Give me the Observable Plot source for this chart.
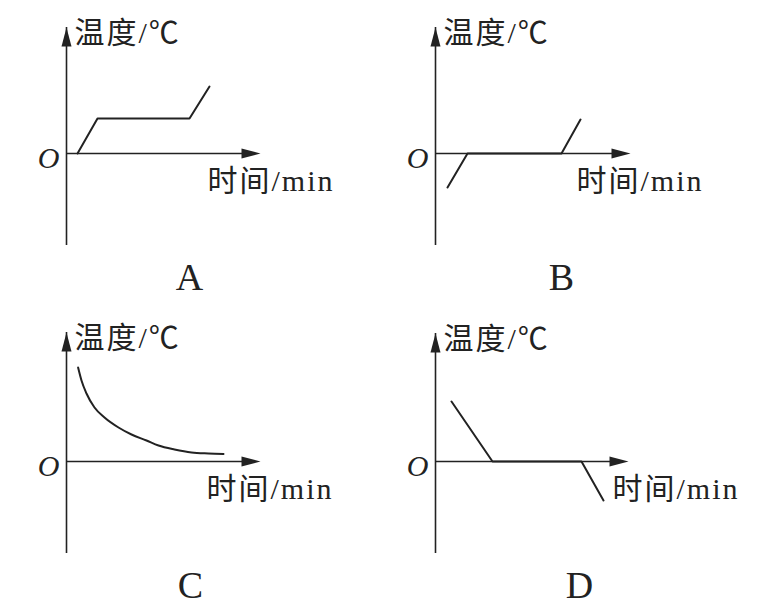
<!DOCTYPE html>
<html><head><meta charset="utf-8">
<script src="https://cdn.jsdelivr.net/npm/d3@7"></script>
<script src="https://cdn.jsdelivr.net/npm/@observablehq/plot@0.6"></script>
<style>
html,body{margin:0;padding:0;background:#fff;}
#chart{position:relative;width:768px;height:605px;background:#fff;overflow:hidden;}
.panel{position:absolute;}
</style></head><body><div id="chart"></div>
<script>
// ---- data (time in min, temperature in °C) ----
const panelNames = ["A", "B", "C", "D"];
const timeA = [0.55, 1.55, 6.15, 7.15];
const tempA = [0, 3.5, 3.5, 6.7];
const timeB = [0.6, 1.6, 6.3, 7.25];
const tempB = [-3.4, 0, 0, 3.4];
const timeC = [0.58, 0.75, 1.0, 1.4, 1.9, 2.6, 3.25, 4.0, 4.6, 5.4, 6.25, 7.1, 7.85];
const tempC = [9.4, 8.1, 6.8, 5.4, 4.4, 3.4, 2.7, 2.1, 1.6, 1.2, 0.9, 0.8, 0.75];
const timeD = [0.8, 2.85, 7.3, 8.4];
const tempD = [6.0, 0, 0, -3.9];
const curveNames = ["linear", "linear", "monotone-x", "linear"];

// axis extents and label anchors (data units)
const xAxisEnd = [9.7, 9.75, 9.7, 9.65];
const yAxisTop = [12.6, 12.6, 12.9, 12.8];
const yAxisBottom = [-8.6, -8.6, -8.6, -8.6];
const xLabelAt = [7.05, 7.05, 7.0, 8.85];
const letterAt = [6.15, 6.3, 6.2, 7.2];

const yAxisLabel = "温度/℃";
const xAxisLabel = "时间/min";
const originLabel = "O";

const times = [timeA, timeB, timeC, timeD];
const temps = [tempA, tempB, tempC, tempD];
const offsets = [[0, 0], [369, 0], [0, 308], [369, 308]];

const ink = "#222";
const fontStack = "'Liberation Serif', 'Times New Roman', 'Noto Sans CJK SC', serif";
const arrowHead = {
  draw(context, l, r) {
    context.moveTo(0, -l);
    context.lineTo(r, 0);
    context.lineTo(-r, 0);
    context.closePath();
  }
};

const chart = document.getElementById("chart");
panelNames.forEach((name, i) => {
  const rows = times[i].map((t, j) => ({time: t, temp: temps[i][j]}));
  const svg = Plot.plot({
    width: 384,
    height: 297,
    margin: 0,
    style: {background: "transparent", overflow: "visible", letterSpacing: "2px"},
    x: {domain: [-3.3, 15.9], axis: null},
    y: {domain: [-14.4, 15.3], axis: null},
    marks: [
      Plot.ruleY([0], {x1: 0, x2: xAxisEnd[i], stroke: ink, strokeWidth: 1.6, insetRight: 6}),
      Plot.ruleX([0], {y1: yAxisBottom[i], y2: yAxisTop[i], stroke: ink, strokeWidth: 1.6, insetTop: 6}),
      Plot.vector([{x: xAxisEnd[i], y: 0}], {x: "x", y: "y", rotate: 90, length: 19, r: 5, anchor: "end", shape: arrowHead, fill: ink, stroke: "none"}),
      Plot.vector([{x: 0, y: yAxisTop[i]}], {x: "x", y: "y", rotate: 0, length: 19, r: 5, anchor: "end", shape: arrowHead, fill: ink, stroke: "none"}),
      Plot.line(rows, {x: "time", y: "temp", curve: curveNames[i], stroke: ink, strokeWidth: 2}),
      Plot.text([yAxisLabel], {x: 0, y: yAxisTop[i], text: d => d, textAnchor: "start", dx: 8, dy: 6, fontSize: 30, fontFamily: fontStack, fill: ink}),
      Plot.text([xAxisLabel], {x: xLabelAt[i], y: 0, text: d => d, textAnchor: "start", dy: 28, fontSize: 30, fontFamily: fontStack, fill: ink}),
      Plot.text([originLabel], {x: 0, y: 0, text: d => d, textAnchor: "middle", dx: -17, dy: 5, fontSize: 30, fontStyle: "italic", fontFamily: fontStack, fill: ink}),
      Plot.text([name], {x: letterAt[i], y: 0, text: d => d, textAnchor: "middle", dx: 1, dy: 124, fontSize: 38, fontFamily: fontStack, fill: ink})
    ]
  });
  const div = document.createElement("div");
  div.className = "panel";
  div.style.left = offsets[i][0] + "px";
  div.style.top = offsets[i][1] + "px";
  div.appendChild(svg);
  chart.appendChild(div);
});
</script>
</body></html>
